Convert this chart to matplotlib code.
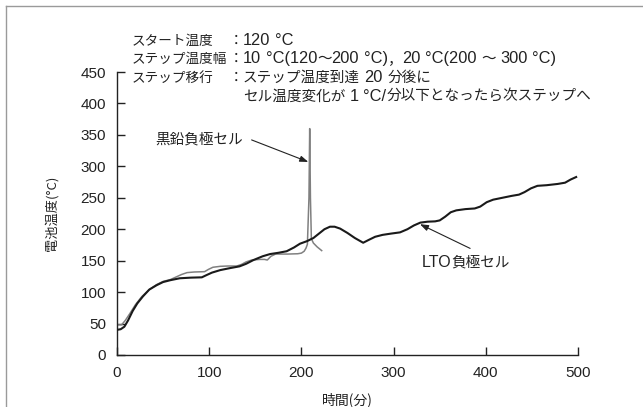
import matplotlib
matplotlib.use("Agg")
import matplotlib.pyplot as plt
from matplotlib.lines import Line2D
from matplotlib.font_manager import FontProperties

plt.rcParams['font.family'] = ['Liberation Sans', 'Noto Sans CJK JP', 'DejaVu Sans']
CJK = ['Noto Sans CJK JP', 'Liberation Sans']

# LTO negative-electrode cell: time (min) / cell temperature (deg C)
lto_time = [0, 4, 8, 12, 17, 22, 28, 35, 43, 50, 58, 68, 80, 92, 97, 103, 112,
            122, 133, 140, 148, 158, 166, 175, 184, 192, 198.5, 206, 213, 219,
            225, 231, 236, 242, 250, 258, 267, 273, 280, 288, 297, 307, 315,
            322, 329, 337, 345, 350, 356, 362, 368, 378, 388, 394, 401, 408,
            418, 428, 436, 442, 449, 456, 466, 478, 486, 492, 498]
lto_temp = [40, 41, 45, 55, 70, 82, 93, 104, 111, 116, 119, 122, 123, 123.5,
            127, 131, 135, 138, 141, 145, 151, 157, 160.5, 162.5, 165, 171,
            177, 181, 186, 193, 200, 204, 204, 201, 194, 186, 178.5, 183, 188,
            191, 193, 195, 200, 206, 210.5, 212, 212.5, 214, 220, 227, 230,
            232, 233, 236, 243, 247, 250, 253, 255, 259, 265, 269, 270, 272,
            274, 279, 283]

# Graphite negative-electrode cell
gr_time = [0, 5, 9, 14, 20, 27, 35, 43, 50, 58, 64, 70, 76, 84, 95, 99, 104,
           112, 120, 130, 135, 140, 146, 155, 160, 163, 167, 172, 185, 196,
           200, 203, 205, 206.5, 208.2, 209, 209.8, 210.8, 213, 217, 222]
gr_temp = [48, 48, 55, 66, 80, 93, 104, 112, 117, 120, 124, 128, 131, 132,
           132.5, 136, 139.5, 141, 141.5, 141.5, 144, 148, 151, 152, 152, 151,
           157, 160.5, 160.5, 161, 162, 165, 170, 176, 250, 360, 250, 185,
           178, 172, 166]

x_ticks = [0, 100, 200, 300, 400, 500]
y_ticks = [0, 50, 100, 150, 200, 250, 300, 350, 400, 450]

# test conditions printed above the plot
cond_labels = ['スタート温度', 'ステップ温度幅', 'ステップ移行', '']
cond_values = ['120 ℃',
               '10 ℃(120～200 ℃)，20 ℃(200 ～ 300 ℃)',
               'ステップ温度到達 20 分後に',
               'セル温度変化が 1 ℃/分以下となったら次ステップへ']

W, H = 643, 407
INK = '#222222'
fig = plt.figure(figsize=(W / 100, H / 100), dpi=100)
ax = fig.add_axes([117 / W, 1 - 355 / H, (578 - 117) / W, (355 - 72) / H])

ax.plot(gr_time, gr_temp, color='#808080', lw=1.1, zorder=2)
ax.plot(lto_time, lto_temp, color='#1a1a1a', lw=1.5, zorder=3)

ax.set_xlim(0, 500)
ax.set_ylim(0, 450)
ax.set_xticks(x_ticks)
ax.set_yticks(y_ticks)
for s in ['top', 'right']:
    ax.spines[s].set_visible(False)
for s in ['left', 'bottom']:
    ax.spines[s].set_color(INK)
    ax.spines[s].set_linewidth(1.0)
ax.tick_params(direction='in', length=5.5, width=1.0, color=INK,
               labelsize=11, labelcolor=INK)
ax.tick_params(axis='x', pad=8)
ax.tick_params(axis='y', pad=8)

ax.set_xlabel('時間(分)', fontsize=10, color=INK, labelpad=9, family=CJK)
ax.set_ylabel('電池温度(°C)', fontsize=9.5, color=INK, labelpad=16, family=CJK)

arrow = dict(arrowstyle='-|>,head_length=0.5,head_width=0.18', color=INK,
             lw=0.8, shrinkA=0, shrinkB=0)
ax.text(137, 342, '黒鉛負極セル', fontsize=10.5, color=INK,
        ha='right', va='center', family=CJK)
ax.annotate('', xy=(207.5, 307), xytext=(146, 342), arrowprops=arrow)
ax.annotate('', xy=(328.6, 208), xytext=(383, 169.5), arrowprops=arrow)

renderer = fig.canvas.get_renderer()
latin_prop = FontProperties(family='Liberation Sans', size=11.8)
label_prop = FontProperties(family='Noto Sans CJK JP', size=9.8)
value_prop = FontProperties(family='Noto Sans CJK JP', size=10.5)


def advance(s, prop):
    w1, _, _ = renderer.get_text_width_height_descent('X' + s + 'X', prop, ismath=False)
    w0, _, _ = renderer.get_text_width_height_descent('XX', prop, ismath=False)
    return w1 - w0


def is_latin(c):
    return (ord(c) < 0x2000 or c == '℃') and c != ' '


def mixed_text(x_px, base_px, s, latin=latin_prop, cjk=value_prop, space=4.5):
    """Write s left to right, Latin runs and CJK runs in their own fonts."""
    runs = []
    for c in s:
        kind = 'sp' if c == ' ' else ('lat' if is_latin(c) else 'cjk')
        if c == '℃':
            c = '°C'
        if runs and runs[-1][0] == kind:
            runs[-1][1] += c
        else:
            runs.append([kind, c])
    x = x_px
    for kind, txt in runs:
        if kind == 'sp':
            x += space * len(txt)
            continue
        prop = latin if kind == 'lat' else cjk
        fig.text(x / W, 1 - base_px / H, txt, fontproperties=prop, color=INK,
                 ha='left', va='baseline')
        x += advance(txt, prop)


baselines = [45, 63, 82, 101]
for lab, val, yb in zip(cond_labels, cond_values, baselines):
    if lab:
        mixed_text(132, yb, lab, cjk=label_prop)
        fig.text(236 / W, 1 - yb / H, '：', fontproperties=value_prop,
                 color=INK, ha='center', va='baseline')
    mixed_text(243, yb, val)

# LTO label in axes data position converted to pixels
lx, ly = ax.transData.transform((330, 148))
mixed_text(lx, H - ly + 5, 'LTO負極セル',
           latin=FontProperties(family='Liberation Sans', size=11.5), space=3.5)

# frame edges at the top and left of the figure
fig.add_artist(Line2D([5.5 / W, 5.5 / W], [0, 1 - 5.5 / H],
                      transform=fig.transFigure, color='#9a9a9a', lw=1.0))
fig.add_artist(Line2D([5.5 / W, 1], [1 - 5.5 / H, 1 - 5.5 / H],
                      transform=fig.transFigure, color='#9a9a9a', lw=1.0))

fig.savefig('out.png', dpi=100)
